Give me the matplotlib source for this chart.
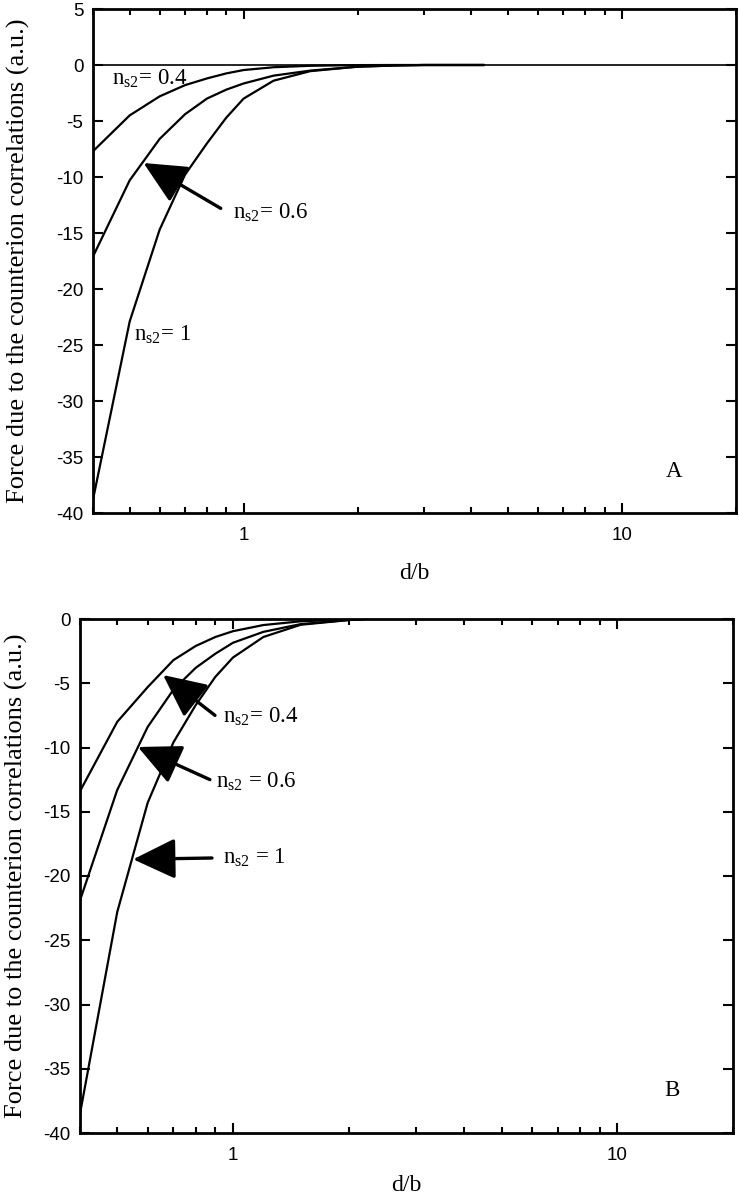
import matplotlib
matplotlib.use("Agg")
import matplotlib.pyplot as plt
from matplotlib import font_manager
from matplotlib.ticker import LogLocator, FixedLocator, NullFormatter, FixedFormatter

plt.rcParams['mathtext.fontset'] = 'custom'
plt.rcParams['mathtext.rm'] = 'Liberation Serif'
plt.rcParams['mathtext.it'] = 'Liberation Serif:italic'

# ---------------- data ----------------
xA = [0.40, 0.50, 0.60, 0.70, 0.80, 0.90, 1.0, 1.2, 1.5, 2.0, 2.5, 3.0, 4.3]
yA_04 = [-7.7, -4.5, -2.8, -1.8, -1.2, -0.75, -0.45, -0.2, -0.07, -0.01, 0.0, 0.0, 0.0]
yA_06 = [-17.1, -10.3, -6.6, -4.4, -3.0, -2.2, -1.65, -0.95, -0.5, -0.15, -0.05, 0.0, 0.0]
yA_1 = [-38.8, -22.9, -14.7, -9.8, -7.0, -4.7, -3.0, -1.4, -0.55, -0.15, -0.04, 0.0, 0.0]

xB = [0.40, 0.50, 0.60, 0.70, 0.80, 0.90, 1.0, 1.2, 1.5, 2.0, 2.2]
yB_04 = [-13.4, -8.0, -5.3, -3.2, -2.1, -1.4, -0.95, -0.47, -0.18, -0.03, 0.0]
yB_06 = [-21.9, -13.3, -8.4, -5.5, -3.8, -2.7, -1.85, -1.0, -0.4, -0.08, 0.0]
yB_1 = [-38.5, -22.8, -14.3, -9.6, -6.7, -4.5, -3.0, -1.4, -0.45, -0.08, 0.0]

xlim = (0.4, 20)
ylimA = (-40, 5)
ylimB = (-40, 0)
yticksA = [-40, -35, -30, -25, -20, -15, -10, -5, 0, 5]
yticksB = [-40, -35, -30, -25, -20, -15, -10, -5, 0]
xticks = [1, 10]
xticklabels = ['1', '10']

ylabel = 'Force due to the counterion correlations (a.u.)'
xlabel = 'd/b'

names = {f.name for f in font_manager.fontManager.ttflist}
sans = 'Liberation Sans Narrow' if 'Liberation Sans Narrow' in names else 'Liberation Sans'
tick_fs = 15.5 if sans == 'Liberation Sans Narrow' else 13.5
serif = 'Liberation Serif'

fig = plt.figure(figsize=(7.39, 11.99), dpi=100)
axA = fig.add_axes([93/739, 1-513/1199, (736-93)/739, (513-9)/1199])
axB = fig.add_axes([80/739, 1-1133/1199, (733-80)/739, (1133-619)/1199])


def style(ax, ylim, yticks, ylabelpad, xlabelpad):
    ax.set_xscale('log')
    ax.set_xlim(*xlim)
    ax.set_ylim(*ylim)
    ax.xaxis.set_major_locator(FixedLocator(xticks))
    ax.xaxis.set_major_formatter(FixedFormatter(xticklabels))
    ax.xaxis.set_minor_locator(LogLocator(base=10, subs=range(2, 10)))
    ax.xaxis.set_minor_formatter(NullFormatter())
    ax.set_yticks(yticks)
    ax.set_yticklabels([str(t) for t in yticks])
    ax.tick_params(which='both', direction='in', top=True, right=True, width=1.5)
    ax.tick_params(which='major', length=7, labelsize=tick_fs)
    ax.tick_params(axis='y', which='major', pad=7)
    ax.tick_params(axis='x', which='major', pad=10)
    ax.tick_params(which='minor', length=4)
    for lab in ax.get_xticklabels() + ax.get_yticklabels():
        lab.set_fontfamily(sans)
    for s in ax.spines.values():
        s.set_linewidth(2)
    ax.set_ylabel(ylabel, fontfamily=serif, fontsize=19, labelpad=ylabelpad)
    ax.set_xlabel(xlabel, fontfamily=serif, fontsize=17, labelpad=xlabelpad)

lw = 1.6
style(axA, ylimA, yticksA, 19, 14)
axA.axhline(0, color='black', lw=1.2)
for y in (yA_04, yA_06, yA_1):
    axA.plot(xA, y, color='black', lw=lw)

style(axB, ylimB, yticksB, 11, 8)
for y in (yB_04, yB_06, yB_1):
    axB.plot(xB, y, color='black', lw=lw)

tfs = 16.5
arrowprops = dict(arrowstyle='-|>,head_length=1.15,head_width=0.55', color='black',
                  lw=2.4, mutation_scale=23, shrinkA=0, shrinkB=0)

# Panel A annotations
axA.text(0.45, -1.2, r'n$_{\mathrm{s2}}$= 0.4', fontfamily=serif, fontsize=tfs, va='center', ha='left')
axA.annotate('', xy=(0.544, -8.75), xytext=(0.87, -12.8), arrowprops=arrowprops)
axA.text(0.935, -13.2, r'n$_{\mathrm{s2}}$= 0.6', fontfamily=serif, fontsize=tfs, va='center', ha='left')
axA.text(0.512, -24.1, r'n$_{\mathrm{s2}}$= 1', fontfamily=serif, fontsize=tfs, va='center', ha='left')
axA.text(13.7, -36.3, 'A', fontfamily=serif, fontsize=tfs, va='center', ha='center')

# Panel B annotations
axB.annotate('', xy=(0.658, -4.36), xytext=(0.898, -7.5), arrowprops=arrowprops)
axB.text(0.94, -7.6, r'n$_{\mathrm{s2}}$= 0.4', fontfamily=serif, fontsize=tfs, va='center', ha='left')
axB.annotate('', xy=(0.566, -9.96), xytext=(0.871, -12.5), arrowprops=arrowprops)
axB.text(0.903, -12.7, r'n$_{\mathrm{s2}}$ = 0.6', fontfamily=serif, fontsize=tfs, va='center', ha='left')
axB.annotate('', xy=(0.55, -18.7), xytext=(0.882, -18.6), arrowprops=arrowprops)
axB.text(0.94, -18.6, r'n$_{\mathrm{s2}}$ = 1', fontfamily=serif, fontsize=tfs, va='center', ha='left')
axB.text(13.9, -36.7, 'B', fontfamily=serif, fontsize=tfs, va='center', ha='center')

fig.savefig('out.png', dpi=100)
